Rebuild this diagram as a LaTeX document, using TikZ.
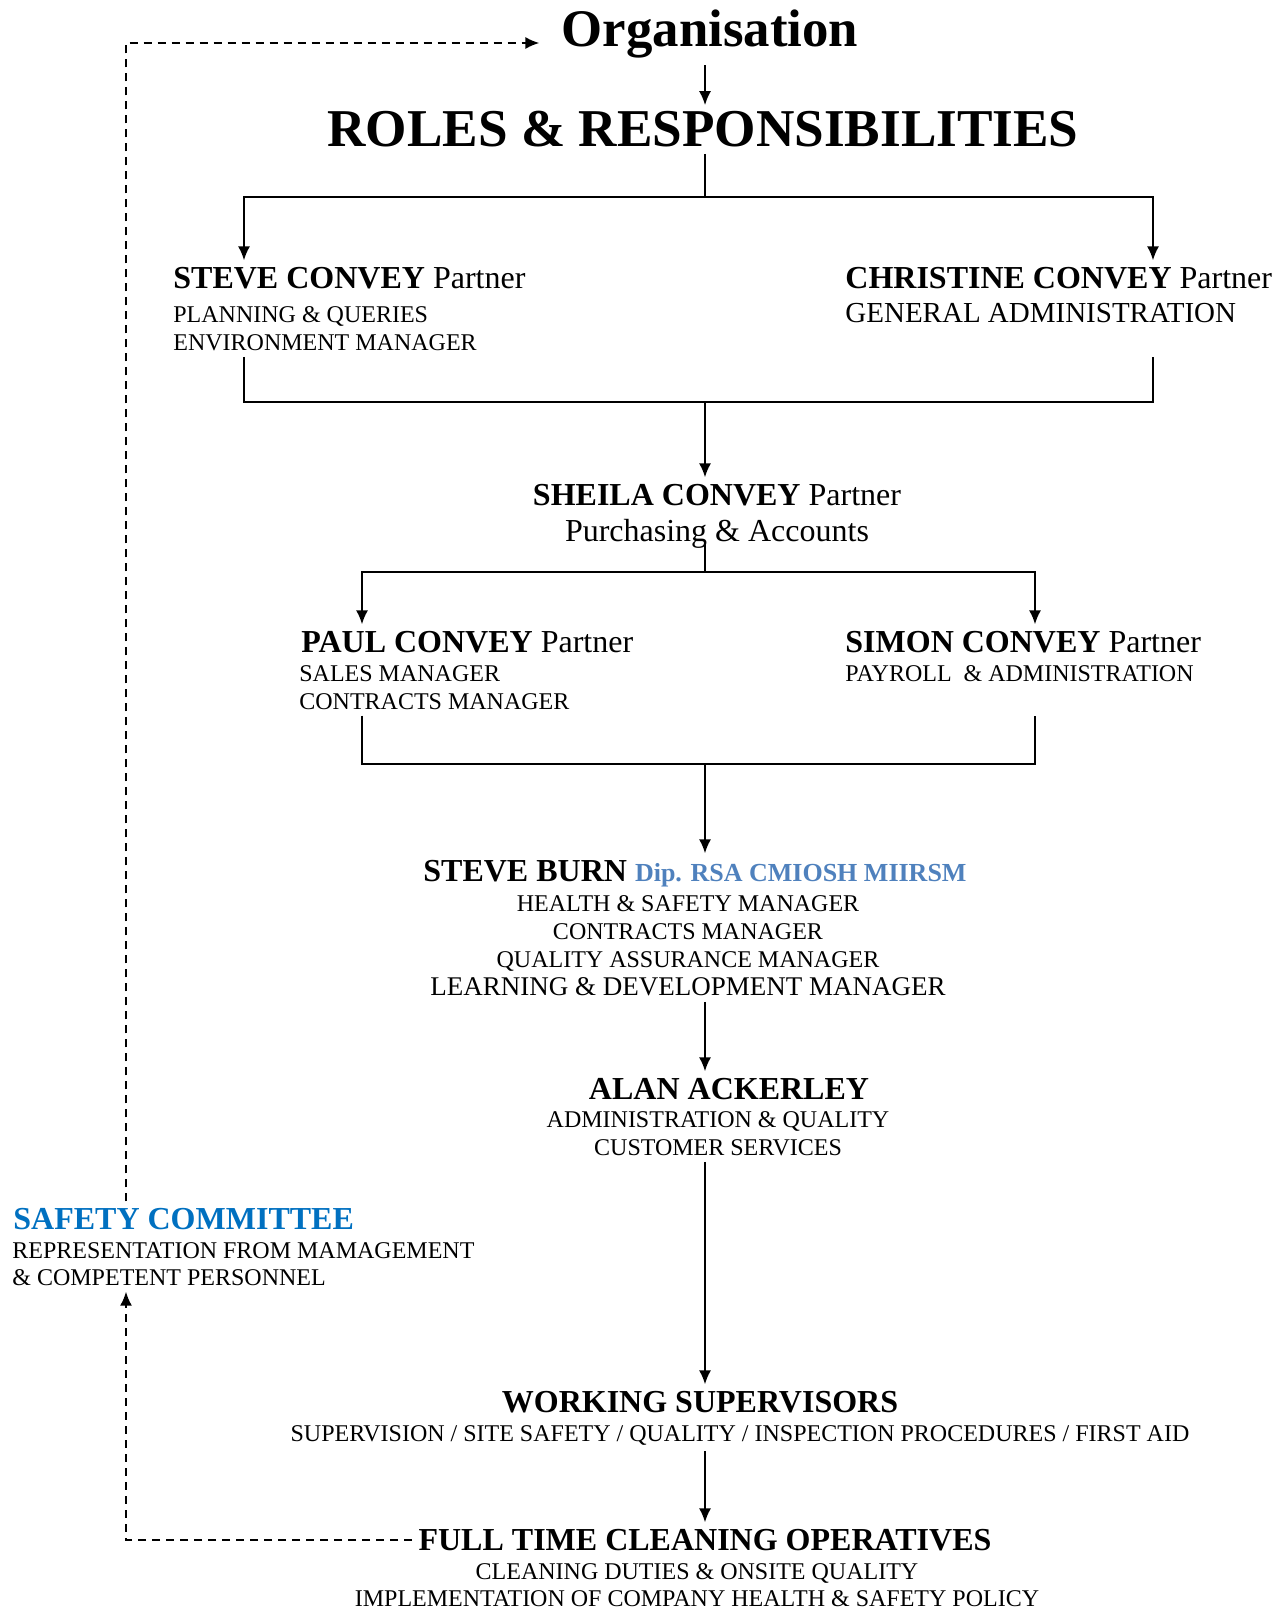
\documentclass[tikz,border=0pt]{standalone}
\usepackage{fontspec}
\setmainfont{Liberation Serif}
\usetikzlibrary{arrows.meta}
\definecolor{dipblue}{RGB}{79,129,189}
\definecolor{safeblue}{RGB}{0,112,192}

\begin{document}
\begin{tikzpicture}[x=0.5pt,y=-0.5pt,
    every node/.style={inner sep=3pt},
    namebox/.style={font=\fontsize{16}{18}\selectfont},
    dutybox/.style={font=\fontsize{12}{14}\selectfont},
    link/.style={line width=1pt},
    arr/.style={line width=1pt,-{Latex[length=7pt,width=6pt]}},
    feedback/.style={line width=1pt,dash pattern=on 4pt off 3pt}]
    \useasboundingbox (0,0) rectangle (1286,1611);
    % Define points
    \coordinate (spine) at (705,0);
    \coordinate (sideX) at (126,0);
    \coordinate (dropL) at (244,0);
    \coordinate (dropR) at (1153,0);
    \coordinate (dropL2) at (362,0);
    \coordinate (dropR2) at (1035,0);
    \coordinate (barA) at (705,197);
    \coordinate (joinA) at (705,402);
    \coordinate (barB) at (705,572);
    \coordinate (joinB) at (705,764);
    % Titles
    \node[anchor=base,font=\fontsize{26.4}{30}\selectfont\bfseries] (org) at (710,47) {Organisation};
    \node[anchor=base,font=\fontsize{26.6}{30}\selectfont\bfseries] (roles) at (703,147) {ROLES \& RESPONSIBILITIES};
    % Partners (multi-line nodes sit on their last line)
    \node[namebox,anchor=base west] (steve) at (167,288) {\textbf{STEVE CONVEY} Partner};
    \node[dutybox,align=left,anchor=base west] (steveduty) at (167,350) {PLANNING \& QUERIES\\ENVIRONMENT MANAGER};
    \node[namebox,anchor=base west] (christine) at (839,288) {\textbf{CHRISTINE CONVEY} Partner};
    \node[anchor=base west,font=\fontsize{14.5}{16}\selectfont] (christineduty) at (839,322) {GENERAL ADMINISTRATION};
    \node[namebox,anchor=base] (sheila) at (717,505) {\textbf{SHEILA CONVEY} Partner};
    \node[namebox,anchor=base] (sheiladuty) at (717,541) {Purchasing \& Accounts};
    \node[namebox,anchor=base west] (paul) at (295,652) {\textbf{PAUL CONVEY} Partner};
    \node[dutybox,align=left,anchor=base west] (paulduty) at (293,709) {SALES MANAGER\\CONTRACTS MANAGER};
    \node[namebox,anchor=base west] (simon) at (839,652) {\textbf{SIMON CONVEY} Partner};
    \node[dutybox,anchor=base west] (simonduty) at (839,681) {PAYROLL\ \ \& ADMINISTRATION};
    % Managers
    \node[namebox,anchor=base west] (burn) at (417,881) {\textbf{STEVE BURN} {\fontsize{13}{14}\selectfont\bfseries\color{dipblue}Dip. RSA CMIOSH MIIRSM}};
    \node[dutybox,align=center,anchor=base] (burnduty) at (688,995) {HEALTH \& SAFETY MANAGER\\CONTRACTS MANAGER\\QUALITY ASSURANCE MANAGER\\{\fontsize{13.5}{14}\selectfont LEARNING \& DEVELOPMENT MANAGER}};
    \node[namebox,anchor=base] (alan) at (729,1099) {\textbf{ALAN ACKERLEY}};
    \node[dutybox,align=center,anchor=base] (alanduty) at (718,1155) {ADMINISTRATION \& QUALITY\\CUSTOMER SERVICES};
    % Safety committee
    \node[namebox,anchor=base west,text=safeblue] (safety) at (7,1229) {\textbf{SAFETY COMMITTEE}};
    \node[align=left,anchor=base west,font=\fontsize{12}{13.5}\selectfont] (safetyduty) at (6,1285) {REPRESENTATION FROM MAMAGEMENT\\\& COMPETENT PERSONNEL};
    % Site staff
    \node[namebox,anchor=base] (work) at (700,1412) {\textbf{WORKING SUPERVISORS}};
    \node[dutybox,anchor=base] (workduty) at (740,1441) {SUPERVISION / SITE SAFETY / QUALITY / INSPECTION PROCEDURES / FIRST AID};
    \node[namebox,anchor=base] (ops) at (705,1550) {\textbf{FULL TIME CLEANING OPERATIVES}};
    \node[align=center,anchor=base,font=\fontsize{12}{13.5}\selectfont] (opsduty) at (697,1606) {CLEANING DUTIES \& ONSITE QUALITY\\IMPLEMENTATION OF COMPANY HEALTH \& SAFETY POLICY};
    % Chain of command
    \draw[arr] (org.south -| spine) -- (roles.north -| spine);
    \draw[link] (roles.south -| spine) -- (barA);
    \draw[arr] (barA) -| (steve.north -| dropL);
    \draw[arr] (barA) -| (christine.north -| dropR);
    \draw[link] (steveduty.south -| dropL) |- (joinA) -| (steveduty.south -| dropR);
    \draw[arr] (joinA) -- (sheila.north -| joinA);
    \draw[link] (sheiladuty.base -| spine) -- (barB);
    \draw[arr] (barB) -| (paul.north -| dropL2);
    \draw[arr] (barB) -| (simon.north -| dropR2);
    \draw[link] (paulduty.south -| dropL2) |- (joinB) -| (paulduty.south -| dropR2);
    \draw[arr] (joinB) -- (burn.north -| joinB);
    \draw[arr] (burnduty.south -| spine) -- (alan.north -| spine);
    \draw[arr] (alanduty.south -| spine) -- (work.north -| spine);
    \draw[arr] (workduty.south -| spine) -- (ops.north -| spine);
    % Feedback loop
    \draw[feedback,arr] (ops.west) -| (safetyduty.south -| sideX);
    \draw[feedback,arr,shorten >=8pt] (safety.north -| sideX) |- ([yshift=2pt]org.base west);
\end{tikzpicture}
\end{document}
